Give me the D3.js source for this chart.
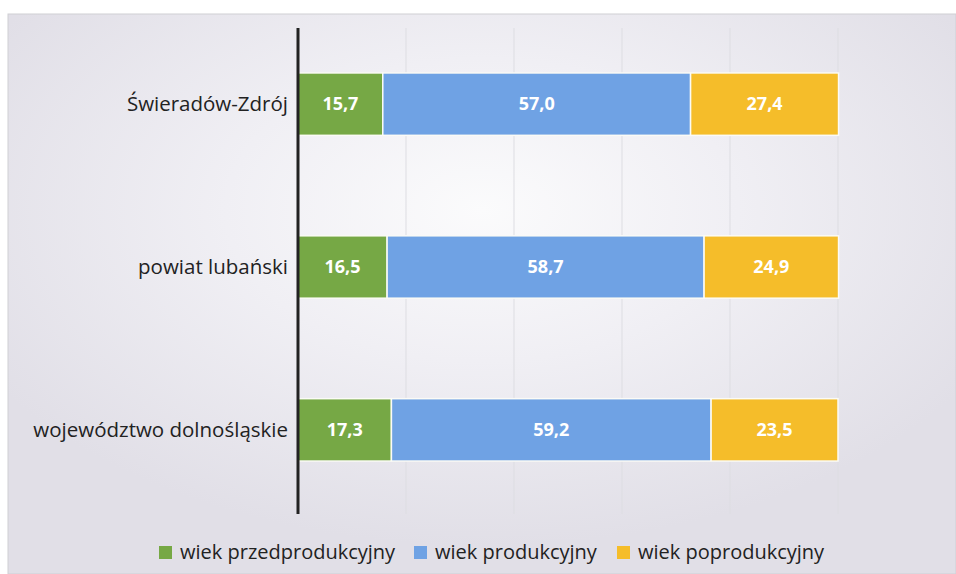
<html>
<head>
    <meta charset="utf-8">
    <script src="https://d3js.org/d3.v7.min.js"></script>
    <style>
        body { margin: 0; background: white; }
        text { font-family: "Open Sans", "Noto Sans", sans-serif; }
    </style>
</head>
<body>
    <svg id="chart" width="956" height="574"></svg>

    <script>

    // data
    const categories = ["Świeradów-Zdrój", "powiat lubański", "województwo dolnośląskie"];
    const seriesNames = ["wiek przedprodukcyjny", "wiek produkcyjny", "wiek poprodukcyjny"];
    const przed = [15.7, 16.5, 17.3];
    const prod = [57.0, 58.7, 59.2];
    const popr = [27.4, 24.9, 23.5];
    const gridTicks = [0, 20, 40, 60, 80, 100];

    const colors = ["#76a845", "#6fa2e4", "#f5bd2a"];

    const svg = d3.select("#chart");
    const width = +svg.attr("width");
    const height = +svg.attr("height");

    // scanned page background
    const defs = svg.append("defs");
    const grad = defs.append("radialGradient")
        .attr("id", "paper")
        .attr("cx", "0.5").attr("cy", "0.35").attr("r", "0.6");
    grad.append("stop").attr("offset", "0%").attr("stop-color", "#fbfbfc");
    grad.append("stop").attr("offset", "45%").attr("stop-color", "#f0eff4");
    grad.append("stop").attr("offset", "100%").attr("stop-color", "#e1dfe7");

    svg.append("rect")
        .attr("x", 8).attr("y", 14)
        .attr("width", width - 8).attr("height", height - 14)
        .attr("fill", "url(#paper)")
        .attr("stroke", "#cfcfd4");

    const plotTop = 28, plotBottom = 514;
    const x = d3.scaleLinear().domain([0, 100]).range([298, 838]);
    const y = d3.scaleBand().domain(categories).range([plotTop, 506]).paddingInner(0.617).paddingOuter(0.276);

    // gridlines
    svg.append("g").selectAll("line").data(gridTicks.slice(1))
        .join("line")
        .attr("x1", d => x(d)).attr("x2", d => x(d))
        .attr("y1", plotTop).attr("y2", plotBottom)
        .attr("stroke", "#dddde2")
        .attr("stroke-width", 1);

    // stacked data
    const rows = categories.map((c, i) => ({cat: c, s0: przed[i], s1: prod[i], s2: popr[i]}));
    const stack = d3.stack().keys(["s0", "s1", "s2"])(rows);

    const layers = svg.append("g").selectAll("g").data(stack)
        .join("g")
        .attr("fill", (d, i) => colors[i]);

    layers.selectAll("rect").data(d => d)
        .join("rect")
        .attr("x", d => x(d[0]))
        .attr("y", d => y(d.data.cat))
        .attr("width", d => x(d[1]) - x(d[0]))
        .attr("height", y.bandwidth())
        .attr("stroke", "#fbfbf6")
        .attr("stroke-width", 1.5);

    // value labels
    const fmt = v => d3.format(".1f")(v).replace(".", ",");
    layers.selectAll("text").data(d => d)
        .join("text")
        .attr("x", d => (x(d[0]) + x(d[1])) / 2)
        .attr("y", d => y(d.data.cat) + y.bandwidth() / 2)
        .attr("dy", "0.35em")
        .attr("text-anchor", "middle")
        .attr("fill", "#ffffff")
        .attr("font-size", 18)
        .attr("font-weight", "bold")
        .text(d => fmt(d[1] - d[0]));

    // vertical axis line
    svg.append("line")
        .attr("x1", 298).attr("x2", 298)
        .attr("y1", plotTop).attr("y2", plotBottom)
        .attr("stroke", "#222")
        .attr("stroke-width", 3);

    // category labels
    svg.append("g").selectAll("text").data(categories)
        .join("text")
        .attr("x", 288)
        .attr("y", d => y(d) + y.bandwidth() / 2)
        .attr("dy", "0.35em")
        .attr("text-anchor", "end")
        .attr("fill", "#222")
        .attr("font-size", 20.5)
        .text(d => d);

    // legend
    const legendX = [159, 414, 617];
    const legend = svg.append("g").selectAll("g").data(seriesNames)
        .join("g")
        .attr("transform", (d, i) => `translate(${legendX[i]}, 552)`);
    legend.append("rect")
        .attr("x", 0).attr("y", -6)
        .attr("width", 13).attr("height", 13)
        .attr("fill", (d, i) => colors[i]);
    legend.append("text")
        .attr("x", 21)
        .attr("dy", "0.35em")
        .attr("fill", "#222")
        .attr("font-size", 20)
        .text(d => d);

    </script>
</body>
</html>
